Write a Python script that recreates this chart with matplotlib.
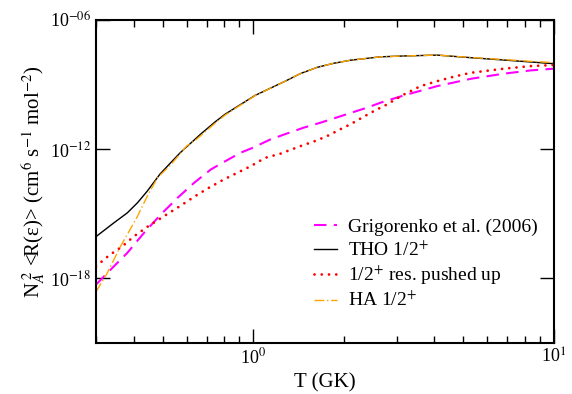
import matplotlib
matplotlib.use("Agg")
import matplotlib.pyplot as plt
import numpy as np

plt.rcParams['font.family'] = ['Liberation Serif', 'DejaVu Serif']
plt.rcParams['mathtext.fontset'] = 'stix'

# Grigorenko et al. (2006)  (log10 of rate)
T_grig = [0.300, 0.344, 0.381, 0.433, 0.492, 0.560, 0.636, 0.723, 0.790, 0.905, 0.990, 1.139, 1.295,
          1.471, 1.672, 1.806, 2.39, 2.65, 3.17, 4.09, 5.29, 6.83, 8.38, 10.0]
R_grig = [-18.29, -17.44, -16.82, -15.89, -15.04, -14.26, -13.56, -12.94, -12.63, -12.17, -11.95, -11.55, -11.27,
          -11.00, -10.77, -10.62, -10.07, -9.84, -9.50, -9.07, -8.73, -8.49, -8.34, -8.26]

# THO 1/2+
T_tho = [0.300, 0.344, 0.381, 0.412, 0.444, 0.490, 0.571, 0.666, 0.747, 0.807, 1.015, 1.278, 1.434,
         1.630, 1.852, 2.10, 2.65, 3.17, 4.09, 5.29, 6.83, 8.38, 10.0]
R_tho = [-16.06, -15.42, -14.96, -14.49, -13.95, -13.15, -12.17, -11.32, -10.73, -10.37, -9.50, -8.84, -8.49,
         -8.20, -8.01, -7.87, -7.71, -7.67, -7.63, -7.75, -7.86, -7.95, -8.03]

# 1/2+ res. pushed up
T_push = [0.300, 0.331, 0.367, 0.401, 0.444, 0.492, 0.574, 0.636, 0.704, 0.790, 0.838, 0.977, 1.096,
          1.230, 1.295, 1.453, 1.621, 1.806, 1.910, 2.10, 2.33, 2.58, 2.72, 3.17, 3.60, 4.09, 4.65,
          5.29, 6.83, 8.38, 10.0]
R_push = [-17.44, -16.94, -16.51, -16.05, -15.61, -15.21, -14.62, -14.21, -13.83, -13.44, -13.26, -12.80, -12.40,
          -12.21, -12.09, -11.83, -11.60, -11.32, -11.13, -10.85, -10.49, -10.15, -10.00, -9.46, -9.07, -8.84, -8.63,
          -8.45, -8.26, -8.14, -8.09]

# HA 1/2+
T_ha = [0.300, 0.327, 0.362, 0.381, 0.412, 0.444, 0.480, 0.532, 0.601, 0.645, 0.747, 0.807, 1.015,
        1.278, 1.434, 1.630, 1.852, 2.10, 2.65, 3.17, 4.09, 5.29, 6.83, 8.38, 10.0]
R_ha = [-18.62, -17.75, -16.51, -15.97, -15.12, -14.19, -13.33, -12.72, -11.85, -11.56, -10.79, -10.41, -9.51,
        -8.84, -8.49, -8.20, -8.01, -7.87, -7.71, -7.67, -7.63, -7.74, -7.84, -7.92, -7.98]

fig = plt.figure(figsize=(5.72, 3.94), dpi=100)
ax = fig.add_axes([96/572, 1-343/394, (554-96)/572, (343-20)/394])

ax.plot(T_grig, 10**np.array(R_grig), color='#ff00ff', lw=1.5, ls=(0, (6, 3.5)), label='Grigorenko et al. (2006)')
ax.plot(T_tho, 10**np.array(R_tho), color='black', lw=1.0, label='THO 1/2$^{+}$')
ax.plot(T_push, 10**np.array(R_push), color='red', lw=2.0, ls=(0, (0.01, 2.6)), dash_capstyle='round', label='1/2$^{+}$ res. pushed up')
ax.plot(T_ha, 10**np.array(R_ha), color='orange', lw=1.0, ls=(0, (7, 2, 1, 2)), label='HA 1/2$^{+}$')

ax.set_xscale('log')
ax.set_yscale('log')
ax.set_xlim(0.3, 10)
ax.set_ylim(1e-21, 1e-6)

ax.set_yticks([1e-18, 1e-12, 1e-6])
ax.set_yticklabels(['10$^{-18}$', '10$^{-12}$', '10$^{-06}$'])
ax.yaxis.set_minor_locator(matplotlib.ticker.NullLocator())
ax.set_xticks([1, 10])
ax.set_xticklabels(['10$^{0}$', '10$^{1}$'])
ax.xaxis.set_minor_locator(matplotlib.ticker.LogLocator(base=10, subs=np.arange(2, 10)))
ax.xaxis.set_minor_formatter(matplotlib.ticker.NullFormatter())

ax.tick_params(which='both', direction='in', top=True, right=True, labelsize=13, width=1.0)
ax.tick_params(which='major', length=10)
ax.tick_params(which='minor', length=5)
for s in ax.spines.values():
    s.set_linewidth(1.5)

ax.set_xlabel('T (GK)', fontsize=15, labelpad=4)
ax.set_ylabel('N$_A^{\\ 2}$ <R(ε)> (cm$^6$ s$^{-1}$ mol$^{-2}$)', fontsize=15, labelpad=2)

leg = ax.legend(loc='upper left', bbox_to_anchor=(0.46, 0.41), frameon=False, fontsize=14,
                handlelength=1.15, handletextpad=0.6, labelspacing=0.2, borderaxespad=0)

fig.savefig('out.png', dpi=100)
